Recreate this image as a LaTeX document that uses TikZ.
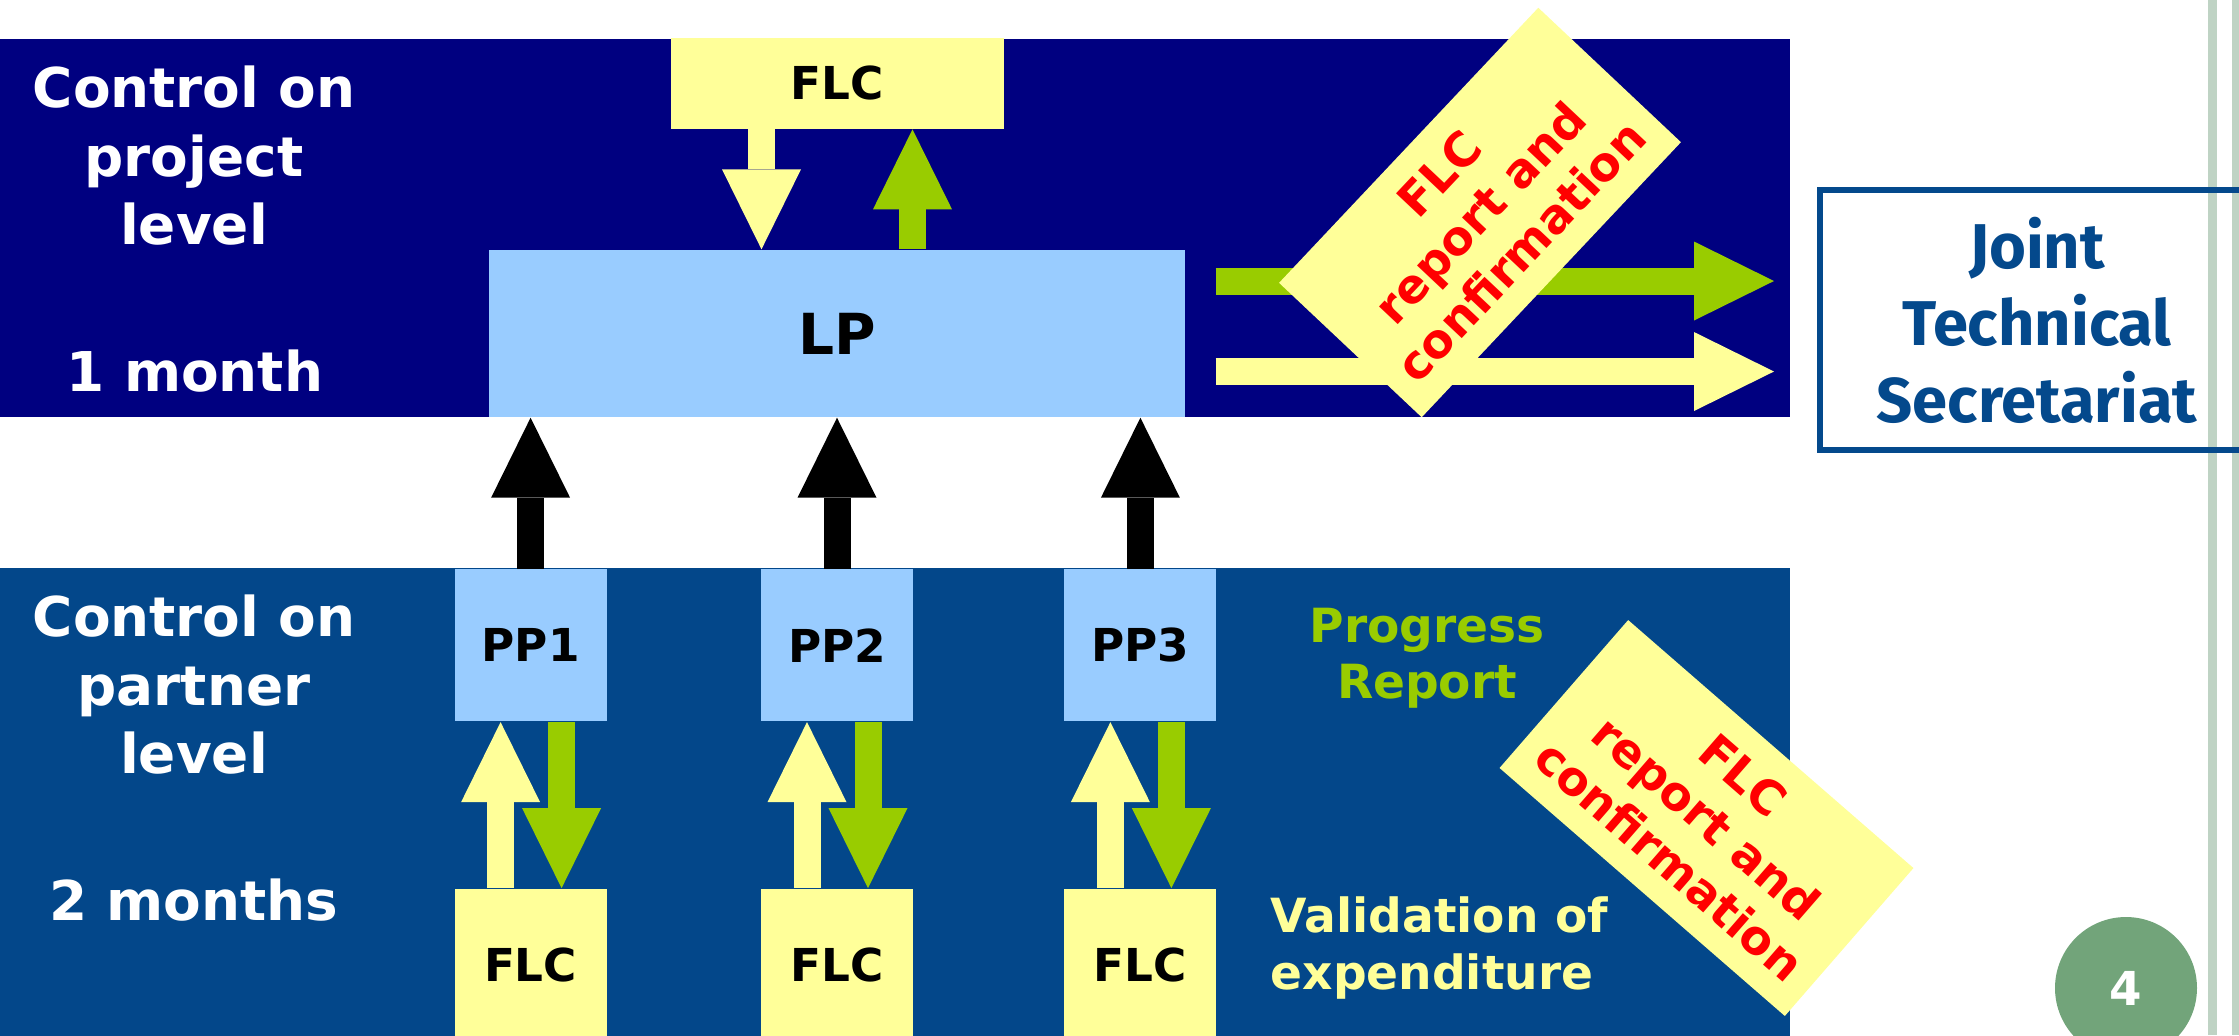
\documentclass[tikz,border=0pt]{standalone}
\usepackage{fontspec}
\setmainfont{DejaVu Sans}
\newfontfamily\jtsfont{Fira Sans}
\usetikzlibrary{arrows.meta,calc,positioning}

\begin{document}
\begin{tikzpicture}[
            node distance=1.5cm,
            arr/.style={line width=2.7mm,-{Triangle[width=7.9mm,length=8mm,line width=0pt]}},
            lbl/.style={text=white,align=center,font=\bfseries\fontsize{15.6}{19.5}\selectfont},
            rep/.style={fill=ylx,text=red,align=center,inner sep=0pt,minimum width=3.78cm,
                        minimum height=1.96cm,font=\bfseries\fontsize{13.4}{16}\selectfont}
        ]
            \definecolor{nvy}{RGB}{0,0,128}
            \definecolor{blx}{RGB}{3,71,138}
            \definecolor{ltb}{RGB}{153,204,255}
            \definecolor{ylx}{RGB}{255,255,153}
            \definecolor{grx}{RGB}{153,204,0}
            \definecolor{jtx}{RGB}{4,73,140}
            \definecolor{pgx}{RGB}{114,164,122}
            \definecolor{stx}{RGB}{191,211,196}

            \useasboundingbox (0,0) rectangle (22.39,-10.35);
            \clip (0,0) rectangle (22.39,-10.35);

            \fill [nvy] (0,-0.39) rectangle (17.90,-4.17);
            \fill [blx] (0,-5.68) rectangle (17.90,-10.40);
            \fill [stx] (22.08,0) rectangle (22.17,-10.35);
            \fill [stx] (22.32,0) rectangle (22.45,-10.35);

            \begin{scope}[
                every node/.style={fill=ltb,inner sep=0pt,minimum size=1.52cm,
                                   font=\bfseries\fontsize{12.9}{15}\selectfont}
            ]
                \node (lp) [minimum width=6.96cm,minimum height=1.67cm,
                            font=\bfseries\fontsize{16.1}{19}\selectfont] at (8.37,-3.335) {LP};
                \node (flc0) [above=1.2cm of lp,fill=ylx,minimum width=3.33cm,minimum height=0.91cm] {FLC};
                \node (pp2)  [below=1.51cm of lp]            {PP2};
                \node (pp1)  [left=1.53cm of pp2]            {PP1};
                \node (pp3)  [right=of pp2]                  {PP3};
                \node (flc1) [below=1.66cm of pp1,fill=ylx] {FLC};
                \node (flc2) [below=1.66cm of pp2,fill=ylx] {FLC};
                \node (flc3) [below=1.66cm of pp3,fill=ylx] {FLC};
            \end{scope}

            \draw [arr,ylx] ([xshift=-7.55mm]flc0.south) -- ([xshift=-7.55mm]lp.north);
            \draw [arr,grx] ([xshift=7.55mm]lp.north)    -- ([xshift=7.55mm]flc0.south);
            \foreach \i in {1,2,3} {
                \draw [arr,black] (pp\i.north)               -- (pp\i.north |- lp.south);
                \draw [arr,ylx]   ([xshift=-3mm]flc\i.north) -- ([xshift=-3mm]pp\i.south);
                \draw [arr,grx]   ([xshift=3.1mm]pp\i.south) -- ([xshift=3.1mm]flc\i.north);
            }

            \node (jts) [draw=jtx,line width=0.6mm,outer sep=0pt,minimum width=4.34cm,minimum height=2.60cm,
                         text=jtx,align=center,font=\jtsfont\bfseries\fontsize{18}{21.9}\selectfont]
                         at (20.37,-3.20) {Joint\\Technical\\Secretariat};
            \draw [arr,grx] ($(lp.east)+(0.30,0.525)$)  -- ($(lp.east-|jts.west)+(-0.46,0.525)$);
            \draw [arr,ylx] ($(lp.east)+(0.30,-0.38)$)  -- ($(lp.east-|jts.west)+(-0.46,-0.38)$);

            \node (rep1) [rep,rotate=46.7] at (14.80,-2.125) {FLC\\report and\\confirmation};
            \node (rep2) [rep,rotate=-41]  at (17.065,-8.18) {FLC\\report and\\confirmation};

            \node (lvl1) [lbl] at (1.94,-1.56) {Control on\\project\\level};
            \node (mon1) [lbl] at (1.95,-3.71) {1 month};
            \node (lvl2) [lbl] at (1.94,-6.85) {Control on\\partner\\level};
            \node (mon2) [lbl] at (1.94,-9.00) {2 months};

            \node (prog)  [text=grx,align=center,font=\bfseries\fontsize{13.4}{16}\selectfont]
                          at (14.27,-6.585) {Progress\\Report};
            \node (valid) [anchor=west,inner sep=0pt,text=ylx,align=left,font=\bfseries\fontsize{13.4}{16.2}\selectfont]
                          at (12.70,-9.48) {Validation of\\expenditure};

            \node (pg) [circle,fill=pgx,minimum size=1.42cm,text=white,
                        font=\bfseries\fontsize{13.3}{16}\selectfont] at (21.26,-9.88) {4};
        \end{tikzpicture}
\end{document}
